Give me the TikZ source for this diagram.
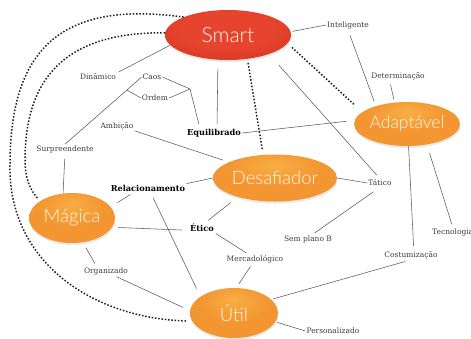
\documentclass[tikz,border=0pt]{standalone}
\usepackage{fontspec}
\usetikzlibrary{shapes.geometric,shadows}
\IfFontExistsTF{Lato Light}{\newfontfamily\elfont{Lato Light}}{\newfontfamily\elfont{Lato}}
\newfontfamily\labfont{DejaVu Serif}
\definecolor{smA}{HTML}{E6442E}
\definecolor{smB}{HTML}{D0301D}
\definecolor{smC}{HTML}{A8170C}
\definecolor{orA}{HTML}{F8AE45}
\definecolor{orB}{HTML}{F39530}
\definecolor{orC}{HTML}{E57519}
\definecolor{lbl}{HTML}{3C3C3C}
\definecolor{ln}{HTML}{5A5A5A}
\definecolor{dt}{HTML}{1E1E1E}
\definecolor{eltext}{HTML}{FFF6EA}
\pgfdeclareradialshading{smartshade}{\pgfpoint{0bp}{8bp}}{color(0bp)=(smA); color(18bp)=(smA); color(42bp)=(smB); color(62bp)=(smC)}
\pgfdeclareradialshading{orshade}{\pgfpoint{0bp}{14bp}}{color(0bp)=(orA); color(20bp)=(orB); color(48bp)=(orB); color(66bp)=(orC)}
\begin{document}
\begin{tikzpicture}[x=1pt,y=-1pt,
  bubble/.style={ellipse, inner sep=0pt, text=eltext,
    drop shadow={opacity=0.18, shadow xshift=0.5pt, shadow yshift=-2pt}},
  redbub/.style={bubble, shading=smartshade, font=\elfont\fontsize{21}{21}\selectfont},
  orbub/.style={bubble, shading=orshade, font=\elfont\fontsize{18.5}{19}\selectfont},
  lab/.style={inner sep=1pt, text=lbl, font=\labfont\fontsize{7.5}{8}\selectfont},
  blab/.style={inner sep=1pt, text=black, font=\labfont\bfseries\fontsize{8.2}{9}\selectfont},
  conn/.style={draw=ln, line width=0.55pt},
  dots/.style={draw=dt, line width=1.5pt, dash pattern=on 1.5pt off 1.8pt}]
\useasboundingbox (0,0) rectangle (471,338);
% main ellipses
\node[redbub, minimum width=126pt, minimum height=50pt] (smart) at (228,35) {Smart};
\node[orbub, minimum width=100pt, minimum height=44pt, font=\elfont\fontsize{17.5}{18}\selectfont] (adapt) at (407,124) {Adaptável};
\node[orbub, minimum width=124pt, minimum height=47pt] (desaf) at (275,178) {Desafiador};
\node[orbub, minimum width=86pt, minimum height=50pt] (magica) at (72,218) {Mágica};
\node[orbub, minimum width=88pt, minimum height=50pt] (util) at (234,313) {Útil};
% labels
\node[lab] (intel) at (348,25) {Inteligente};
\node[lab] (dinam) at (98,77) {Dinâmico};
\node[lab] (caos) at (152,77) {Caos};
\node[lab] (ordem) at (155,98) {Ordem};
\node[blab] (equil) at (214,133) {Equilibrado};
\node[lab] (ambic) at (117,126) {Ambição};
\node[lab] (surpr) at (65,149) {Surpreendente};
\node[lab] (determ) at (398,76) {Determinação};
\node[blab] (relac) at (148,188) {Relacionamento};
\node[blab] (etico) at (202,228) {Ético};
\node[lab] (organ) at (106,271) {Organizado};
\node[lab] (merc) at (255,259) {Mercadológico};
\node[lab] (tatico) at (380,183) {Tático};
\node[lab] (semplano) at (308,239) {Sem plano B};
\node[lab, anchor=west] (tecno) at (431,232) {Tecnologia};
\node[lab] (costum) at (411,255) {Costumização};
\node[lab] (person) at (333,331) {Personalizado};
\coordinate (jL) at (127,90);
\coordinate (jR) at (190,89);
\coordinate (oL) at (10,165);
\coordinate (iL) at (25,160);
% solid connectors
\draw[conn, shorten <=2pt] (smart.3) -- (intel.west);
\draw[conn, shorten >=2pt] (smart.-170) -- (dinam.north east);
\draw[conn] (caos.west) -- (jL) -- (surpr.north);
\draw[conn] (ordem.west) -- (jL);
\draw[conn, shorten >=4pt] (caos.east) -- (jR) -- (equil.160);
\draw[conn] (ordem.east) -- (jR);
\draw[conn, shorten <=9pt, shorten >=4pt] (smart.-112) -- (equil.60);
\draw[conn, shorten >=8pt] (equil.east) -- (adapt.176);
\draw[conn, shorten >=6pt] (ambic.south east) -- (desaf.161);
\draw[conn, shorten <=5pt] (surpr.south) -- (magica.110);
\draw[conn, shorten <=15pt, shorten >=5pt] (smart.-25) -- (tatico.north);
\draw[conn, shorten <=6pt, shorten >=5pt] (intel.south) -- (adapt.150);
\draw[conn, shorten <=4pt, shorten >=3pt] (determ.-150) -- (adapt.120);
\draw[conn] (desaf.east) -- (tatico.west);
\draw[conn, shorten <=8pt, shorten >=2pt] (tatico.south) -- (semplano.45);
\draw[conn, shorten >=4pt] (adapt.-86) -- (costum.60);
\draw[conn, shorten <=9pt, shorten >=3pt] (adapt.-46) -- (tecno.north);
\draw[conn, shorten <=6pt, shorten >=2pt] (costum.south) -- (util.20);
\draw[conn, shorten <=2pt] (util.-12) -- (person.west);
\draw[conn] (desaf.west) -- (relac.north east);
\draw[conn, shorten <=4pt, shorten >=8pt] (relac.-163) -- (magica.16);
\draw[conn, shorten <=6pt, shorten >=9pt] (relac.-60) -- (util.154);
\draw[conn, shorten <=6pt, shorten >=7pt] (magica.-13) -- (etico.-170);
\draw[conn, shorten <=4pt, shorten >=9pt] (etico.60) -- (desaf.-153);
\draw[conn, shorten <=1pt, shorten >=2pt] (etico.south east) -- (merc.144);
\draw[conn, shorten <=3pt, shorten >=5pt] (merc.-120) -- (util.85);
\draw[conn, shorten <=6pt, shorten >=3pt] (magica.-66) -- (organ.153);
\draw[conn, shorten <=2pt, shorten >=8pt] (organ.-29) -- (util.177);
% dotted connectors
\draw[dots, shorten <=4pt, shorten >=5pt] (smart.-51) -- (desaf.117);
\draw[dots, shorten <=6pt, shorten >=11pt] (smart.-8) -- (adapt.165);
\draw[dots, shorten >=6pt] (smart.158) .. controls (60,0) and (10,50) .. (oL) .. controls (8,260) and (90,318) .. (util.-169);
\draw[dots, shorten >=3pt] (smart.178) .. controls (80,32) and (25,65) .. (iL) .. controls (25,178) and (30,190) .. (magica.152);
\end{tikzpicture}
\end{document}
